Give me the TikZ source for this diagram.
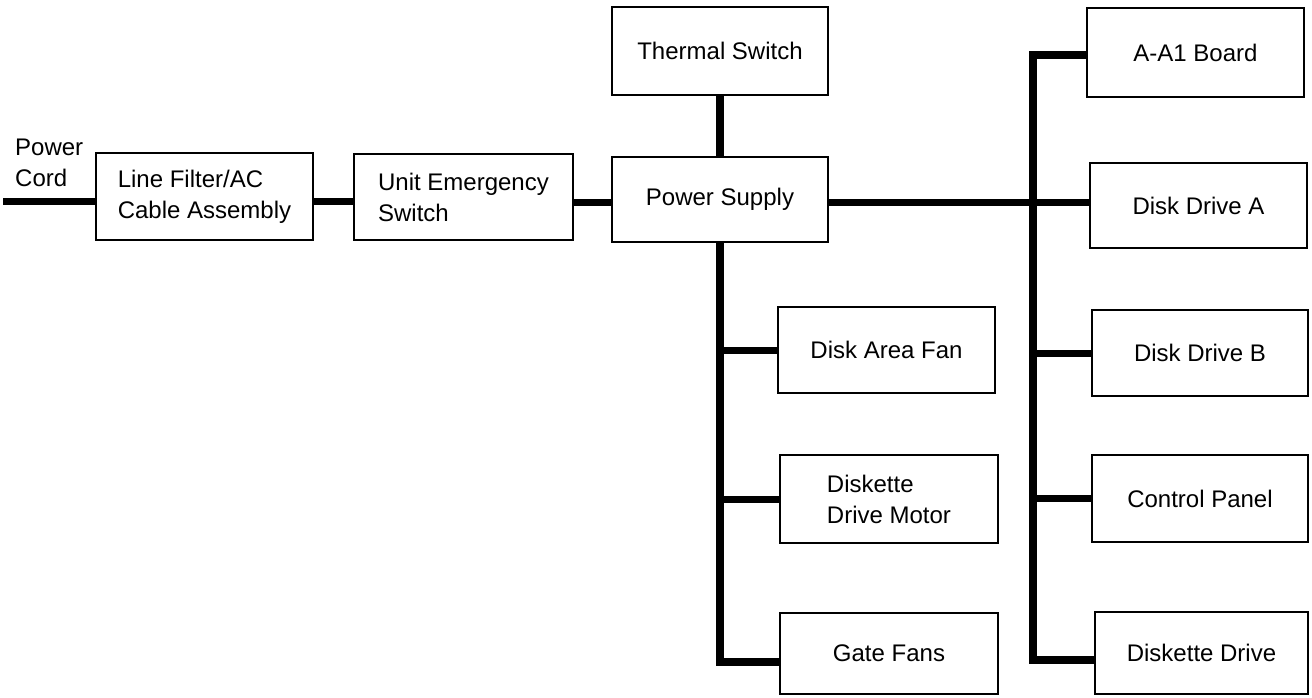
\documentclass[tikz,border=0pt]{standalone}
\usepackage{fontspec}
\setmainfont{Liberation Sans}
\begin{document}
\begin{tikzpicture}[x=1pt,y=-1pt,
  box/.style={draw, line width=2.2pt, inner sep=0pt, align=left,
    font=\fontsize{24}{31}\selectfont},
  wire/.style={line width=7pt},
  bus/.style={line width=8.5pt, line join=miter},
  lbl/.style={inner sep=0pt, align=left, font=\fontsize{24}{31}\selectfont}]
\useasboundingbox (0,0) rectangle (1312,698);
% boxes
\node[box, minimum width=217, minimum height=87] (LF) at (204.5,196.5) {Line Filter/AC\\Cable Assembly};
\node[box, minimum width=219, minimum height=86] (UE) at (463.5,197) {Unit Emergency\\Switch};
\node[box, minimum width=216, minimum height=85] (PS) at (720,199.5) {Power Supply};
\node[box, minimum width=216, minimum height=88] (TS) at (720,51) {Thermal Switch};
\node[box, minimum width=217, minimum height=89] (A1) at (1195.5,52.5) {A-A1 Board};
\node[box, minimum width=217, minimum height=85] (DDA) at (1198.5,205.5) {Disk Drive A};
\node[box, minimum width=216, minimum height=86] (DDB) at (1200,353) {Disk Drive B};
\node[box, minimum width=216, minimum height=87] (CP) at (1200,498.5) {Control Panel};
\node[box, minimum width=213, minimum height=82] (DD) at (1201.5,653) {Diskette Drive};
\node[box, minimum width=217, minimum height=86] (DAF) at (886.5,350) {Disk Area Fan};
\node[box, minimum width=218, minimum height=88] (DDM) at (889,499) {Diskette\\Drive Motor};
\node[box, minimum width=218, minimum height=81] (GF) at (889,653.5) {Gate Fans};
\node[lbl, anchor=north west] (cord) at (15,139) {Power\\Cord};
% coordinates
\coordinate (cordEnd) at (3,201);
\coordinate (mainY) at (0,202);
\coordinate (busTop) at (1033,55);
\coordinate (busBot) at (1033,660);
\coordinate (psBot) at (720,662);
% connectors
\draw[wire] (cordEnd) -- (LF.west |- cordEnd);
\draw[wire] (LF.east |- cordEnd) -- (UE.west |- cordEnd);
\draw[wire] (UE.east |- mainY) -- (PS.west |- mainY);
\draw[bus] (PS.north) -- (TS.south);
\draw[wire] (PS.east |- mainY) -- (DDA.west |- mainY);
\draw[bus] (A1.west |- busTop) -- (busTop) -- (busBot) -- (DD.west |- busBot);
\draw[wire] (busTop |- DDB.west) -- (DDB.west);
\draw[wire] (busTop |- CP.west) -- (CP.west);
\draw[bus] (PS.south) -- (psBot) -- (GF.west |- psBot);
\draw[wire] (psBot |- DAF.west) -- (DAF.west);
\draw[wire] (psBot |- DDM.west) -- (DDM.west);
\end{tikzpicture}
\end{document}
